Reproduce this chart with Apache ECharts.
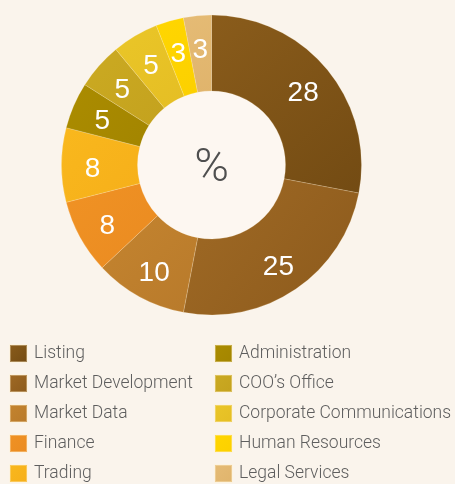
<!DOCTYPE html>
<html>
<head>
<meta charset="utf-8">
<style>
  html, body { margin: 0; padding: 0; background: #faf4ec; }
  #chart { width: 455px; height: 484px; }
</style>
<script src="https://cdn.jsdelivr.net/npm/echarts@6/dist/echarts.min.js"></script>
</head>
<body>
<div id="chart"></div>
<script>
// Department share of staff, in percent
const departments = [
  'Listing', 'Market Development', 'Market Data', 'Finance', 'Trading',
  'Administration', "COO\u2019s Office", 'Corporate Communications', 'Human Resources', 'Legal Services'
];
const shares = [28, 25, 10, 8, 8, 5, 5, 5, 3, 3];
const palette = [
  ['#8a5c1b', '#734b13'],
  ['#a06a25', '#8c5a1c'],
  ['#c4842f', '#b87a2b'],
  ['#f09224', '#ea8b21'],
  ['#f9b81d', '#f6af1a'],
  ['#ab8c00', '#a38500'],
  ['#cbaa22', '#c4a21e'],
  ['#eac628', '#e5be24'],
  ['#ffd600', '#fcd000'],
  ['#e5bb75', '#e0b46c']
];

const chart = echarts.init(document.getElementById('chart'), null, { renderer: 'canvas' });

const cx = 211.5, cy = 165;
const innerR = 74, outerR = 150;
const labelR = 119;

const total = shares.reduce((a, b) => a + b, 0);
// mid-angle (radians, clockwise from 12 o'clock) of each slice
const midAngles = [];
shares.reduce((acc, v) => {
  midAngles.push(((acc + v / 2) / total) * Math.PI * 2);
  return acc + v;
}, 0);

const data = departments.map((name, i) => ({
  name: name,
  value: shares[i],
  itemStyle: {
    color: {
      type: 'linear', x: 0, y: 0, x2: 1, y2: 1,
      colorStops: [
        { offset: 0, color: palette[i][0] },
        { offset: 1, color: palette[i][1] }
      ]
    }
  }
}));

const legendText = {
  color: '#5e5e5e',
  fontFamily: 'Roboto, "Liberation Sans", Arial, sans-serif',
  fontWeight: 300,
  fontSize: 17.5,
  padding: [0, 0, 0, 2]
};

const legendBase = {
  orient: 'vertical',
  top: 344,
  height: 200,
  padding: 0,
  itemWidth: 17,
  itemHeight: 17,
  itemGap: 11,
  icon: 'rect',
  selectedMode: false,
  textStyle: legendText
};

chart.setOption({
  backgroundColor: '#faf4ec',
  animation: false,
  legend: [
    Object.assign({}, legendBase, { left: 9, data: departments.slice(0, 5) }),
    Object.assign({}, legendBase, { left: 214, data: departments.slice(5) })
  ],
  graphic: [
    {
      type: 'circle',
      shape: { cx: cx, cy: cy, r: innerR },
      style: { fill: '#fdf7f1' },
      z: 0
    },
    {
      type: 'text',
      x: cx,
      y: cy + 4,
      style: {
        text: '%',
        fill: '#4f4f4f',
        font: '300 47px Roboto, "Liberation Sans", Arial, sans-serif',
        textAlign: 'center',
        textVerticalAlign: 'middle'
      },
      z: 10
    }
  ],
  series: [{
    type: 'pie',
    center: [cx, cy],
    radius: [innerR, outerR],
    startAngle: 90,
    clockwise: true,
    avoidLabelOverlap: false,
    silent: true,
    itemStyle: {
      borderColor: 'rgba(255,240,210,0.35)',
      borderWidth: 0.6
    },
    label: {
      show: true,
      position: 'inside',
      formatter: '{c}',
      color: '#ffffff',
      fontFamily: '"Liberation Sans", Arial, sans-serif',
      fontSize: 28
    },
    labelLayout: function (p) {
      const a = midAngles[p.dataIndex];
      return {
        x: cx + labelR * Math.sin(a),
        y: cy - labelR * Math.cos(a) + 4,
        align: 'center',
        verticalAlign: 'middle'
      };
    },
    labelLine: { show: false },
    data: data
  }]
});
</script>
</body>
</html>
